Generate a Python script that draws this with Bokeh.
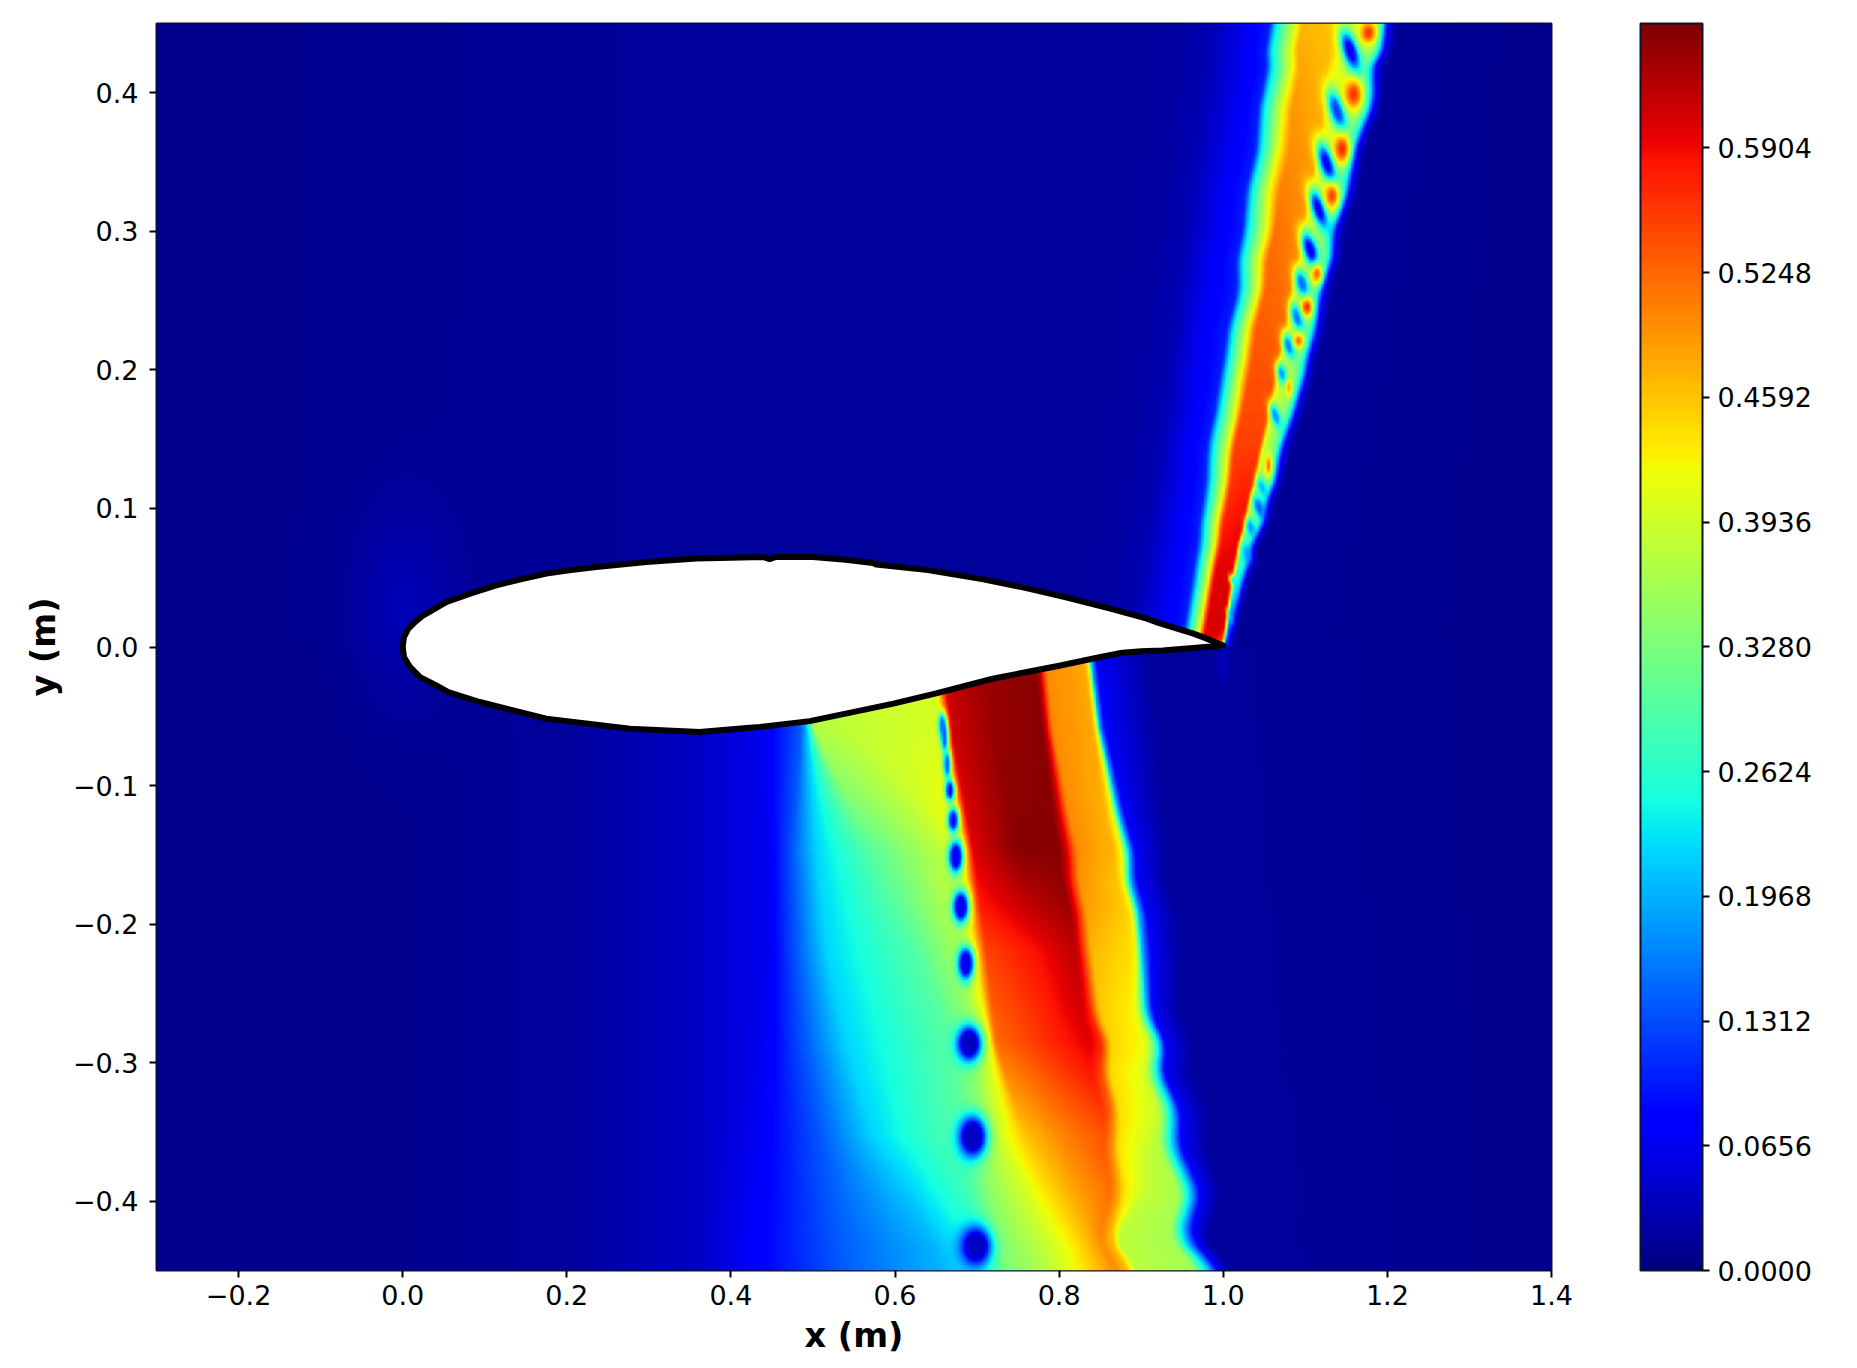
import numpy as np
from bokeh.plotting import figure
from bokeh.models import Range1d, FixedTicker, LinearColorMapper, ColorBar, NumeralTickFormatter
from bokeh.embed import file_html
from bokeh.resources import INLINE

X_TICKS = [-0.2, 0.0, 0.2, 0.4, 0.6, 0.8, 1.0, 1.2, 1.4]
X_LABELS = ["\u22120.2", "0.0", "0.2", "0.4", "0.6", "0.8", "1.0", "1.2", "1.4"]
Y_TICKS = [-0.4, -0.3, -0.2, -0.1, 0.0, 0.1, 0.2, 0.3, 0.4]
Y_LABELS = ["\u22120.4", "\u22120.3", "\u22120.2", "\u22120.1", "0.0", "0.1", "0.2", "0.3", "0.4"]
CB_TICKS = [0.0, 0.0656, 0.1312, 0.1968, 0.2624, 0.3280, 0.3936, 0.4592, 0.5248, 0.5904]
CB_MAX = 0.6558

# Airfoil outline
FOIL_UP_X = [0.0, 0.0016, 0.0069, 0.015, 0.0252, 0.0394, 0.0536, 0.085, 0.114, 0.145, 0.175, 0.205, 0.236, 0.297, 0.358, 0.40, 0.439, 0.447, 0.455, 0.50, 0.54, 0.573, 0.577, 0.64, 0.706, 0.76, 0.807, 0.86, 0.907, 0.918, 0.9627, 0.98, 1.0]
FOIL_UP_Y = [0.0, 0.0072, 0.0132, 0.018, 0.0229, 0.0277, 0.0325, 0.039, 0.0445, 0.049, 0.053, 0.0555, 0.0578, 0.0614, 0.0638, 0.0645, 0.065, 0.0635, 0.065, 0.065, 0.063, 0.0607, 0.0595, 0.0555, 0.049, 0.0425, 0.036, 0.028, 0.0205, 0.018, 0.0098, 0.006, 0.001]
FOIL_LO_X = [1.0, 0.926, 0.90, 0.877, 0.849, 0.80, 0.719, 0.65, 0.598, 0.496, 0.435, 0.419, 0.362, 0.277, 0.175, 0.094, 0.0556, 0.041, 0.0211, 0.0089, 0.0016, 0.0]
FOIL_LO_Y = [0.001, -0.0025, -0.003, -0.0042, -0.0074, -0.0135, -0.0229, -0.0335, -0.0409, -0.0535, -0.0577, -0.0585, -0.0614, -0.059, -0.0517, -0.0397, -0.0325, -0.0277, -0.0217, -0.0144, -0.0072, 0.0]

# Upper plume: x of each band edge at each y level
UP_Y = [0.0, 0.05, 0.101, 0.15, 0.197, 0.25, 0.30, 0.35, 0.40, 0.45]
UP_X = [
    [0.84, 0.89, 0.925, 0.95, 0.955, 0.969, 0.975, 1.000, 1.002, 1.003, 1.004, 1.006, 1.012],
    [0.853, 0.90, 0.935, 0.963, 0.969, 0.983, 0.989, 1.011, 1.014, 1.018, 1.023, 1.028, 1.034],
    [0.865, 0.915, 0.945, 0.975, 0.981, 0.9974, 1.005, 1.030, 1.033, 1.045, 1.052, 1.056, 1.064],
    [0.875, 0.925, 0.955, 0.983, 0.989, 1.0096, 1.016, 1.048, 1.052, 1.066, 1.073, 1.078, 1.088],
    [0.885, 0.935, 0.965, 0.997, 1.003, 1.022, 1.032, 1.064, 1.068, 1.090, 1.098, 1.103, 1.112],
    [0.895, 0.945, 0.975, 1.014, 1.02, 1.04, 1.048, 1.081, 1.085, 1.108, 1.116, 1.121, 1.132],
    [0.91, 0.955, 0.99, 1.022, 1.028, 1.052, 1.062, 1.097, 1.10, 1.128, 1.136, 1.141, 1.152],
    [0.92, 0.965, 1.004, 1.036, 1.042, 1.064, 1.077, 1.113, 1.116, 1.146, 1.157, 1.162, 1.172],
    [0.93, 0.975, 1.02, 1.048, 1.054, 1.079, 1.089, 1.125, 1.13, 1.17, 1.18, 1.186, 1.196],
    [0.94, 0.985, 1.03, 1.058, 1.064, 1.091, 1.096, 1.135, 1.14, 1.185, 1.192, 1.197, 1.21],
]
UP_V = [
    [0.018, 0.03, 0.065, 0.10, 0.22, 0.42, 0.60, 0.62, 0.15, 0.12, 0.10, 0.07, 0.015],
    [0.018, 0.03, 0.065, 0.10, 0.22, 0.42, 0.60, 0.60, 0.28, 0.26, 0.22, 0.07, 0.015],
    [0.018, 0.03, 0.065, 0.10, 0.22, 0.42, 0.57, 0.59, 0.38, 0.33, 0.22, 0.07, 0.015],
    [0.018, 0.03, 0.065, 0.10, 0.22, 0.42, 0.55, 0.55, 0.40, 0.33, 0.22, 0.07, 0.015],
    [0.018, 0.03, 0.065, 0.10, 0.22, 0.42, 0.54, 0.54, 0.42, 0.33, 0.22, 0.07, 0.015],
    [0.018, 0.03, 0.065, 0.10, 0.22, 0.42, 0.53, 0.52, 0.44, 0.33, 0.22, 0.07, 0.015],
    [0.018, 0.03, 0.065, 0.10, 0.22, 0.42, 0.52, 0.50, 0.44, 0.33, 0.22, 0.07, 0.015],
    [0.018, 0.03, 0.065, 0.10, 0.22, 0.42, 0.50, 0.49, 0.44, 0.33, 0.22, 0.07, 0.015],
    [0.018, 0.03, 0.065, 0.10, 0.22, 0.42, 0.49, 0.47, 0.44, 0.33, 0.22, 0.07, 0.015],
    [0.018, 0.03, 0.065, 0.10, 0.22, 0.42, 0.47, 0.46, 0.44, 0.33, 0.22, 0.07, 0.015],
]
# Raggedness of the upper plume edges
UP_WAVE_Y = [0.06, 0.075, 0.09, 0.105, 0.12, 0.14, 0.17, 0.21, 0.23, 0.26, 0.28, 0.30, 0.33, 0.36, 0.39, 0.42, 0.43, 0.45]
UP_WAVE_R = [0.0, -0.003, 0.002, -0.002, 0.002, -0.001, 0.001, -0.001, 0.002, -0.002, 0.003, -0.003, 0.002, -0.003, 0.003, -0.004, 0.004, 0.004]
UP_WAVE_L = [0.0, 0.001, -0.001, 0.0, 0.001, -0.001, 0.001, 0.0, -0.002, 0.002, -0.002, 0.002, -0.002, 0.002, -0.002, 0.002, -0.002, 0.0]

# Lower plume: x of each band edge at each y level
LO_Y = [-0.45, -0.4332, -0.3538, -0.2864, -0.219, -0.185, -0.147, -0.058, 0.0]
LO_X = [
    [0.42, 0.535, 0.66, 0.705, 0.735, 0.79, 0.82, 0.845, 0.87, 0.882, 0.888, 0.895, 0.965, 0.985, 0.995, 1.01],
    [0.42, 0.53, 0.65, 0.70, 0.727, 0.78, 0.81, 0.835, 0.861, 0.872, 0.878, 0.885, 0.955, 0.971, 0.983, 1.0],
    [0.43, 0.51, 0.573, 0.679, 0.71, 0.74, 0.76, 0.80, 0.861, 0.87, 0.878, 0.92, 0.93, 0.947, 0.957, 0.99],
    [0.44, 0.49, 0.54, 0.67, 0.695, 0.715, 0.723, 0.78, 0.84, 0.853, 0.865, 0.905, 0.912, 0.926, 0.932, 0.965],
    [0.445, 0.48, 0.516, 0.63, 0.68, 0.697, 0.711, 0.78, 0.82, 0.826, 0.84, 0.89, 0.895, 0.902, 0.914, 0.95],
    [0.445, 0.478, 0.51, 0.60, 0.672, 0.69, 0.703, 0.765, 0.81, 0.818, 0.83, 0.878, 0.885, 0.893, 0.903, 0.94],
    [0.445, 0.475, 0.504, 0.57, 0.662, 0.683, 0.695, 0.75, 0.80, 0.81, 0.821, 0.865, 0.875, 0.884, 0.892, 0.93],
    [0.44, 0.485, 0.493, 0.50, 0.55, 0.655, 0.668, 0.72, 0.78, 0.786, 0.792, 0.841, 0.846, 0.849, 0.857, 0.92],
    [0.43, 0.475, 0.483, 0.49, 0.54, 0.645, 0.658, 0.71, 0.77, 0.776, 0.782, 0.829, 0.834, 0.837, 0.845, 0.91],
]
LO_V = [
    [0.07, 0.14, 0.20, 0.26, 0.33, 0.38, 0.42, 0.46, 0.50, 0.47, 0.44, 0.38, 0.36, 0.20, 0.07, 0.018],
    [0.07, 0.14, 0.20, 0.26, 0.33, 0.38, 0.42, 0.46, 0.50, 0.47, 0.44, 0.38, 0.36, 0.20, 0.07, 0.018],
    [0.065, 0.14, 0.22, 0.30, 0.36, 0.42, 0.46, 0.50, 0.54, 0.50, 0.44, 0.39, 0.37, 0.20, 0.07, 0.018],
    [0.065, 0.14, 0.22, 0.30, 0.34, 0.42, 0.52, 0.56, 0.60, 0.57, 0.45, 0.42, 0.39, 0.20, 0.07, 0.018],
    [0.065, 0.14, 0.22, 0.30, 0.37, 0.44, 0.55, 0.59, 0.62, 0.60, 0.47, 0.44, 0.42, 0.20, 0.07, 0.018],
    [0.065, 0.14, 0.22, 0.30, 0.38, 0.44, 0.58, 0.62, 0.64, 0.60, 0.49, 0.455, 0.42, 0.20, 0.07, 0.018],
    [0.065, 0.14, 0.22, 0.30, 0.385, 0.44, 0.60, 0.65, 0.65, 0.60, 0.50, 0.47, 0.42, 0.20, 0.07, 0.018],
    [0.065, 0.14, 0.22, 0.37, 0.385, 0.40, 0.61, 0.64, 0.65, 0.60, 0.50, 0.48, 0.42, 0.20, 0.07, 0.018],
    [0.065, 0.14, 0.22, 0.37, 0.385, 0.40, 0.61, 0.64, 0.65, 0.60, 0.50, 0.48, 0.42, 0.20, 0.07, 0.018],
]
# Raggedness of the lower shock edge
LO_WAVE_Y = [-0.45, -0.4488, -0.4236, -0.3947, -0.361, -0.3345, -0.308, -0.2864, -0.2671, -0.2503, -0.2262, -0.19, -0.17, -0.15, -0.12, -0.08]
LO_WAVE_D = [0.0, 0.0, -0.018, 0.005, -0.010, 0.0, -0.012, 0.0, -0.011, -0.008, -0.002, 0.003, -0.003, 0.002, -0.001, 0.0]

# Low and high spots: x, y, half-size across, half-size along, value, tilt
SPOT_X = [0.699, 0.695, 0.6909, 0.6868, 0.6807, 0.6746, 0.6714, 0.6673, 0.6640, 0.6610, 0.6580,
          1.1557, 1.1395, 1.1273, 1.1172, 1.107, 1.0969, 1.0908, 1.0806, 1.0725, 1.0644, 1.048, 1.044, 1.034, 1.030, 1.0116, 1.0096,
          1.178, 1.1598, 1.1456, 1.1334, 1.115, 1.103, 1.0928, 1.0806, 1.0563,
          0.0, 1.0]
SPOT_Y = [-0.4332, -0.3538, -0.2864, -0.2286, -0.1877, -0.1516, -0.1251, -0.1035, -0.085, -0.065, -0.056,
          0.4308, 0.3875, 0.349, 0.3165, 0.2864, 0.2623, 0.2383, 0.2178, 0.1973, 0.1673, 0.1155, 0.101, 0.0866, 0.0674, 0.048, 0.0216,
          0.444, 0.3995, 0.3598, 0.3261, 0.2695, 0.2455, 0.2214, 0.1877, 0.1311,
          0.03, -0.012]
SPOT_A = [0.017, 0.016, 0.014, 0.009, 0.009, 0.008, 0.006, 0.005, 0.004, 0.004, 0.004,
          0.0085, 0.0085, 0.008, 0.0075, 0.0075, 0.007, 0.0065, 0.006, 0.0055, 0.005, 0.005, 0.005, 0.005, 0.005, 0.002, 0.002,
          0.010, 0.011, 0.010, 0.009, 0.007, 0.007, 0.006, 0.004, 0.004,
          0.06, 0.008]
SPOT_B = [0.013, 0.014, 0.012, 0.011, 0.011, 0.011, 0.008, 0.007, 0.009, 0.010, 0.008,
          0.017, 0.017, 0.017, 0.016, 0.015, 0.012, 0.011, 0.010, 0.009, 0.010, 0.008, 0.009, 0.007, 0.007, 0.004, 0.006,
          0.008, 0.011, 0.011, 0.010, 0.008, 0.007, 0.005, 0.007, 0.008,
          0.07, 0.014]
SPOT_V = [0.04, 0.04, 0.04, 0.065, 0.065, 0.07, 0.09, 0.09, 0.14, 0.14, 0.15,
          0.065, 0.12, 0.065, 0.065, 0.065, 0.15, 0.15, 0.16, 0.18, 0.17, 0.20, 0.14, 0.18, 0.18, 0.20, 0.20,
          0.57, 0.57, 0.58, 0.56, 0.54, 0.58, 0.54, 0.50, 0.54,
          0.045, 0.06]
SPOT_T = [0.0] * 11 + [-0.6] * 16 + [0.0] * 9 + [0.0, 0.0]
SPOT_G = [1.5] * 11 + [1.15] * 16 + [1.0] * 9 + [0.6, 0.5]

# Background columns on both sides of the bands: x and value
UP_BG_X = [-0.3, 0.0, 0.3]
UP_BG_V = [0.008, 0.012, 0.016]
LO_BG_X = [-0.3, 0.0, 0.2, 0.36]
LO_BG_V = [0.008, 0.010, 0.018, 0.04]
BG_R_X = [1.4]
BG_R_V = [0.008]


def jet_palette(n=256):
    t = np.linspace(0, 1, n)
    r = np.interp(t, [0, 0.35, 0.66, 0.89, 1], [0, 0, 1, 1, 0.5])
    g = np.interp(t, [0, 0.125, 0.375, 0.64, 0.91, 1], [0, 0, 1, 1, 0, 0])
    b = np.interp(t, [0, 0.11, 0.34, 0.65, 1], [0.5, 1, 1, 0, 0])
    return ["#%02x%02x%02x" % (int(a * 255), int(c * 255), int(d * 255)) for a, c, d in zip(r, g, b)]


def band_row(y, levels, xt, vt):
    xt, vt = np.array(xt), np.array(vt)
    xs = np.array([np.interp(y, levels, xt[:, k]) for k in range(xt.shape[1])])
    vs = np.array([np.interp(y, levels, vt[:, k]) for k in range(vt.shape[1])])
    return xs, vs


def soften(arr, n):
    kernel = np.ones(n) / n
    return np.convolve(np.pad(arr, n, mode="edge"), kernel, mode="same")[n:-n]


NX, NY = 930, 830
xg = np.linspace(-0.3, 1.4, NX)
yg = np.linspace(-0.45, 0.45, NY)
field = np.zeros((NY, NX), dtype=np.float32)

up_r = soften(np.interp(yg, UP_WAVE_Y, UP_WAVE_R), 9)
up_l = soften(np.interp(yg, UP_WAVE_Y, UP_WAVE_L), 9)
lo_d = soften(np.interp(yg, LO_WAVE_Y, LO_WAVE_D), 17)

for i, y in enumerate(yg):
    if y >= 0:
        xs, vs = band_row(y, UP_Y, UP_X, UP_V)
        xs[8:] += up_r[i]
        xs[2:7] += up_l[i]
        bx, bv = UP_BG_X, UP_BG_V
    else:
        xs, vs = band_row(y, LO_Y, LO_X, LO_V)
        xs[8:11] += 0.6 * lo_d[i]
        xs[11:] += lo_d[i]
        bx, bv = LO_BG_X, LO_BG_V
    full_x = np.concatenate([bx, xs, BG_R_X])
    full_v = np.concatenate([bv, vs, BG_R_V])
    full_x = np.maximum.accumulate(full_x + np.arange(full_x.size) * 1e-7)
    field[i] = np.interp(xg, full_x, full_v)

gx, gy = np.meshgrid(xg, yg)
for sx, sy, a, b, v, t, g in zip(SPOT_X, SPOT_Y, SPOT_A, SPOT_B, SPOT_V, SPOT_T, SPOT_G):
    dx, dy = gx - sx, gy - sy
    u = dx * np.cos(t) - dy * np.sin(t)
    w = dx * np.sin(t) + dy * np.cos(t)
    weight = np.clip(g * np.exp(-(u / a) ** 2 - (w / b) ** 2), 0, 1)
    field = field * (1 - weight) + v * weight
field = np.apply_along_axis(soften, 1, field, 3)
field = np.apply_along_axis(soften, 0, field, 3)
field = field.astype(np.float32)

mapper = LinearColorMapper(palette=jet_palette(), low=0.0, high=CB_MAX)

p = figure(frame_width=1395, frame_height=1247, x_range=Range1d(-0.3, 1.4), y_range=Range1d(-0.45, 0.45),
           output_backend="svg", toolbar_location=None, min_border_left=156, min_border_top=23,
           min_border_right=10, min_border_bottom=10, background_fill_color="white",
           outline_line_color="#101030", outline_line_width=2)
p.grid.visible = False
p.image(image=[field], x=-0.3, y=-0.45, dw=1.7, dh=0.9, color_mapper=mapper)
p.patch(FOIL_UP_X + FOIL_LO_X, FOIL_UP_Y + FOIL_LO_Y, fill_color="white", line_color="black",
        line_width=6, line_join="round")

for ax, ticks, labels, name in [(p.xaxis[0], X_TICKS, X_LABELS, "x (m)"), (p.yaxis[0], Y_TICKS, Y_LABELS, "y (m)")]:
    ax.ticker = FixedTicker(ticks=ticks)
    ax.major_label_overrides = dict(zip(ticks, labels))
    ax.axis_label = name
    ax.axis_label_text_font = "DejaVu Sans"
    ax.axis_label_text_font_style = "bold"
    ax.axis_label_text_font_size = "33.5px"
    ax.axis_label_text_color = "black"
    ax.major_label_text_font = "DejaVu Sans"
    ax.major_label_text_font_size = "27px"
    ax.major_label_text_color = "black"
    ax.major_tick_out = 7
    ax.major_tick_in = 0
    ax.major_tick_line_width = 2
    ax.major_tick_line_color = "black"
    ax.minor_tick_line_color = None
    ax.axis_line_color = None
p.xaxis[0].major_label_standoff = 7
p.xaxis[0].axis_label_standoff = 8
p.yaxis[0].major_label_standoff = 11
p.yaxis[0].axis_label_standoff = 7
p.yaxis[0].major_label_orientation = "horizontal"

cb = ColorBar(color_mapper=mapper, ticker=FixedTicker(ticks=CB_TICKS), formatter=NumeralTickFormatter(format="0.0000"),
              width=62, padding=0, margin=0, location=(89, 0), major_tick_out=7, major_tick_in=0,
              major_tick_line_color="black", major_tick_line_width=2, minor_tick_line_color=None,
              bar_line_color="#101030", bar_line_width=2, major_label_text_font="DejaVu Sans",
              major_label_text_font_size="27px", major_label_text_color="black", label_standoff=8)
p.add_layout(cb, "right")

open("out.html", "w").write(file_html(p, INLINE))
